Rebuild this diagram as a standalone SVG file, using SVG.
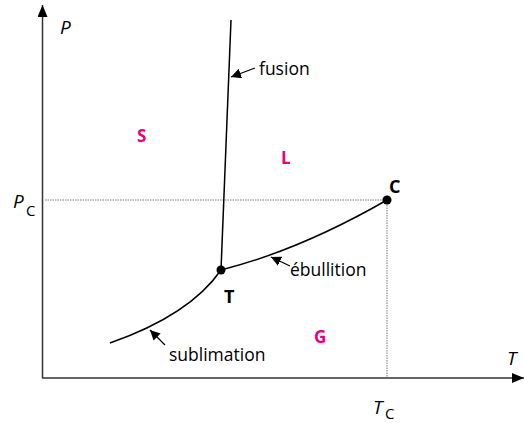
<svg xmlns="http://www.w3.org/2000/svg" width="524" height="425" viewBox="0 0 524 425">
<defs>
<marker id="ah" viewBox="0 0 10 10" refX="10" refY="5" markerWidth="10" markerHeight="10" markerUnits="userSpaceOnUse" orient="auto"><path d="M0,0 L10,5 L0,10 z" fill="#000"/></marker>
<marker id="ax" viewBox="0 0 12 10" refX="12" refY="5" markerWidth="12" markerHeight="10" markerUnits="userSpaceOnUse" orient="auto"><path d="M0,0 L12,5 L0,10 z" fill="#000"/></marker>
</defs>
<style>
text{font-family:"Open Sans","Noto Sans",sans-serif;font-size:17.5px;fill:#000}
.it{font-style:italic;font-size:19px}
.ph{font-weight:bold;fill:#e6007e;font-size:17px}
.pt{font-weight:bold;font-size:18px}
.sub{font-size:15px}
.curve{fill:none;stroke:#000;stroke-width:1.5}
.dot{fill:none;stroke:#777;stroke-width:1;stroke-dasharray:1.5 1}
.lbl{stroke:#000;stroke-width:1.2;fill:none}
</style>
<g id="axes">
<line x1="42.5" y1="378" x2="42.5" y2="5" stroke="#333" stroke-width="1.5" marker-end="url(#ax)"/>
<line x1="42" y1="378" x2="524" y2="378" stroke="#333" stroke-width="1.5" marker-end="url(#ax)"/>
<text class="it" x="60" y="34">P</text>
<text class="it" x="507" y="365">T</text>
<text class="it" x="13" y="208">P</text><text class="sub" x="26" y="216">C</text>
<text class="it" x="373" y="414">T</text><text class="sub" x="385" y="419">C</text>
</g>
<g id="guides">
<line class="dot" x1="45" y1="200" x2="387" y2="200"/>
<line class="dot" x1="387" y1="200" x2="387" y2="377"/>
</g>
<g id="connectors">
<path id="fusion-line" class="curve" d="M221,270 L231,20"/>
<path id="ebullition-line" class="curve" d="M221,270 Q300,250 387,200"/>
<path id="sublimation-line" class="curve" d="M110,343 Q190,315 221,270"/>
<line class="lbl" x1="255" y1="68" x2="231" y2="77" marker-end="url(#ah)"/>
<line class="lbl" x1="290" y1="266" x2="271" y2="257" marker-end="url(#ah)"/>
<line class="lbl" x1="165" y1="345" x2="150" y2="330" marker-end="url(#ah)"/>
</g>
<g id="node-T"><circle cx="221" cy="270" r="4.5" fill="#000"/><text class="pt" x="224" y="303">T</text></g>
<g id="node-C"><circle cx="387" cy="200" r="4.5" fill="#000"/><text class="pt" x="389" y="193">C</text></g>
<g id="label-fusion"><text x="259" y="75">fusion</text></g>
<g id="label-ebullition"><text x="290" y="276">ébullition</text></g>
<g id="label-sublimation"><text x="169" y="361">sublimation</text></g>
<g id="phase-S"><text class="ph" x="137" y="142">S</text></g>
<g id="phase-L"><text class="ph" x="281" y="164">L</text></g>
<g id="phase-G"><text class="ph" x="314" y="343">G</text></g>
</svg>
